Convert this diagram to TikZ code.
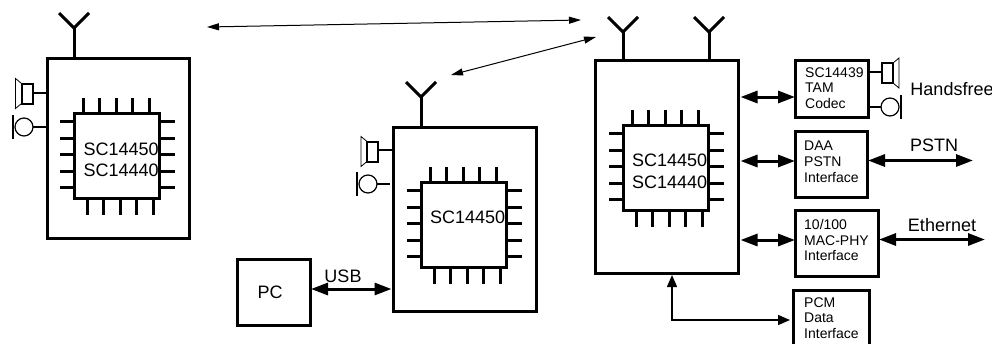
\documentclass[tikz,border=0pt]{standalone}
\usepackage{fontspec}
\setmainfont{Liberation Sans}
\usetikzlibrary{calc,arrows.meta}
\tikzset{
    devbox/.style={draw,line width=3pt,minimum width=#1,inner sep=0pt,outer sep=0pt},
    chipbox/.style={draw,line width=3pt,minimum width=85pt,minimum height=85pt,inner sep=0pt,outer sep=0pt},
    chiptext/.style={anchor=west,inner sep=0pt,align=left,font=\fontsize{18}{21.5}\selectfont},
    boxtext/.style={anchor=west,inner sep=0pt,align=left,font=\fontsize{14}{15.8}\selectfont},
    biglabel/.style={inner sep=0pt,font=\fontsize{18}{21}\selectfont},
    thinarrow/.style={line width=1pt,{Triangle[length=12pt,width=7pt]}-{Triangle[length=12pt,width=7pt]}},
    fatarrow/.style={line width=3pt,{Triangle[length=17pt,width=12pt]}-{Triangle[length=17pt,width=12pt]}},
    pin/.style={line width=3pt},
    speaker/.pic={
        \draw[line width=2pt] (-5,-10) rectangle (6,10);
        \draw[line width=0.8pt] (-5,-10) -- (-11,-15) -- (-11,15) -- (-5,10);
    },
    mic/.pic={
        \draw[line width=1.2pt] (0,0) circle (9);
        \draw[line width=2pt] (-11,-12) -- (-11,12);
    },
}
\begin{document}
\begin{tikzpicture}[x=1pt,y=-1pt]
    \useasboundingbox (0,0) rectangle (992,343);
    %handsets and base
    \node[devbox=142pt,minimum height=180pt] (devA) at (118,148) {};
    \node[devbox=143pt,minimum height=184pt] (devB) at (465,219) {};
    \node[devbox=143pt,minimum height=213pt] (devC) at (667,166.5) {};
    %chips
    \node[chipbox] (chipA) at (117,156) {};
    \node[chipbox] (chipB) at (464,225) {};
    \node[chipbox] (chipC) at (666,168) {};
    \node[chiptext] (txtA) at (83.5,160) {SC14450\\SC14440};
    \node[chiptext] (txtB) at (430,217) {SC14450};
    \node[chiptext] (txtC) at (632,171.5) {SC14450\\SC14440};
    \foreach \c in {chipA,chipB,chipC} {
        \foreach \d in {-34,-18,-1,15,32} {
            \draw[pin] ($(\c.north)+(\d,0)$) -- ++(0,-16);
            \draw[pin] ($(\c.south)+(\d+4,0)$) -- ++(0,16);
        }
        \foreach \d in {-35,-18,-2,15,31} {
            \draw[pin] ($(\c.west)+(0,\d)$) -- ++(-15,0);
            \draw[pin] ($(\c.east)+(0,\d)$) -- ++(15,0);
        }
    }
    %antennas
    \coordinate (antA) at (74,28);
    \coordinate (antB) at (421,97);
    \coordinate (antC) at (623,32);
    \coordinate (antD) at (709,32);
    \foreach \a/\b in {antA/devA,antB/devB,antC/devC,antD/devC} {
        \draw[pin] (\a) -- (\a |- \b.north);
        \draw[pin] ($(\a)+(-15,-15)$) -- (\a) -- ++(15,-15);
    }
    %speakers and mics
    \pic (spkA) at (26.5,93.5) {speaker};
    \pic (spkB) at (372,151.5) {speaker};
    \pic[xscale=-1] (spkC) at (888,73) {speaker};
    \pic (micA) at (24,127) {mic};
    \pic (micB) at (368,184) {mic};
    \pic[xscale=-1] (micC) at (890,107) {mic};
    \coordinate (spkAend) at (32,93);
    \coordinate (spkBend) at (377,150);
    \coordinate (spkCend) at (882,72);
    \coordinate (micAend) at (33,127);
    \coordinate (micBend) at (377,184);
    \coordinate (micCend) at (881,107);
    \coordinate (micBbox) at (390,184);
    \draw[line width=1.5pt] (spkAend) -- (spkAend -| devA.west);
    \draw[line width=1.5pt] (micAend) -- (micAend -| devA.west);
    \draw[line width=1.5pt] (spkBend) -- (spkBend -| devB.west);
    \draw[line width=1.5pt] (micBend) -- (micBbox);
    %interface boxes
    \node[devbox=73pt,minimum height=57pt] (tam) at (831.5,88.5) {};
    \node[devbox=72pt,minimum height=66pt] (daa) at (831,164.5) {};
    \node[devbox=83pt,minimum height=66pt] (mac) at (836.5,243) {};
    \node[devbox=76pt,minimum height=57pt] (pcm) at (831,319) {};
    \node[devbox=73pt,minimum height=66pt] (pc) at (273.5,292) {};
    \node[boxtext] (tamtxt) at (805,88) {SC14439\\TAM\\Codec};
    \node[boxtext] (daatxt) at (804,161.5) {DAA\\PSTN\\Interface};
    \node[boxtext] (mactxt) at (804,240) {10/100\\MAC-PHY\\Interface};
    \node[boxtext] (pcmtxt) at (804,318) {PCM\\Data\\Interface};
    \node[biglabel] (pctxt) at (270,292) {PC};
    \draw[line width=1.5pt] (spkCend) -- (spkCend -| tam.east);
    \draw[line width=1.5pt] (micCend) -- (micCend -| tam.east);
    %links
    \coordinate (hsA) at (207,27);
    \coordinate (hsB) at (581,20);
    \coordinate (hsC) at (451,75);
    \coordinate (hsD) at (596,37);
    \coordinate (pstnEnd) at (973,160.5);
    \coordinate (ethEnd) at (985,239.5);
    \coordinate (pcmUp) at (672,320);
    \draw[thinarrow] (hsA) -- (hsB);
    \draw[thinarrow] (hsC) -- (hsD);
    \draw[fatarrow,shorten <=1pt,shorten >=2pt] (pc.east |- 0,289) -- (devB.west |- 0,289);
    \draw[fatarrow,shorten <=2pt] (devC.east |- 0,97) -- (tam.west |- 0,97);
    \draw[fatarrow,shorten <=2pt] (devC.east |- 0,161) -- (daa.west |- 0,161);
    \draw[fatarrow,shorten <=2pt] (devC.east |- 0,240) -- (mac.west |- 0,240);
    \draw[fatarrow,shorten <=1pt] (daa.east |- pstnEnd) -- (pstnEnd);
    \draw[fatarrow,shorten <=1pt] (mac.east |- ethEnd) -- (ethEnd);
    \draw[line width=1.5pt,{Triangle[length=12pt,width=10pt]}-{Triangle[length=12pt,width=10pt]},shorten <=2pt,shorten >=3pt] (pcmUp |- devC.south) -- (pcmUp) -- (pcm.west |- pcmUp);
    %labels
    \node[biglabel] (usb) at (343,276) {USB};
    \node[biglabel] (hf) at (952,89) {Handsfree};
    \node[biglabel] (pstn) at (934,145) {PSTN};
    \node[biglabel] (eth) at (942,225) {Ethernet};
\end{tikzpicture}
\end{document}
